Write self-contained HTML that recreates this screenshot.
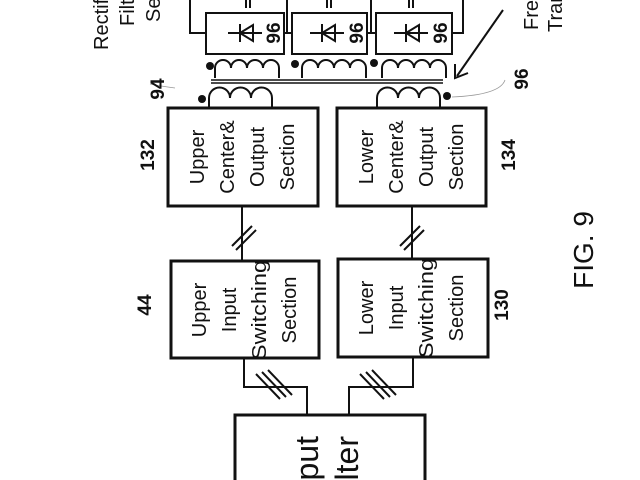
<!DOCTYPE html>
<html><head><style>
html,body{margin:0;padding:0;background:#fff;overflow:hidden;width:640px;height:480px;}
svg{display:block;}
text{font-family:"Liberation Sans",sans-serif;fill:#111;}
</style></head><body>
<svg width="640" height="480" viewBox="0 0 640 480" xmlns="http://www.w3.org/2000/svg">
<g fill="none" stroke="#111" stroke-width="3">
<rect x="168" y="108" width="150" height="98"/>
<rect x="337" y="108" width="149" height="98"/>
<rect x="171" y="261" width="148" height="97"/>
<rect x="338" y="259" width="150" height="98"/>
<path d="M235,480 V415 H425 V480"/>
</g>
<g fill="none" stroke="#111" stroke-width="2">
<rect x="206" y="13" width="78" height="41"/>
<rect x="292" y="13" width="75" height="41"/>
<rect x="376" y="13" width="76" height="41"/>
<polyline points="190,0 190,33 206,33"/>
<polyline points="463,0 463,33 452,33"/>
<polyline points="287,0 287,33"/><line x1="284" y1="33" x2="292" y2="33"/>
<polyline points="371,0 371,33"/><line x1="367" y1="33" x2="376" y2="33"/>
<line x1="242" y1="206" x2="242" y2="261"/>
<line x1="412" y1="206" x2="412" y2="259"/>
<polyline points="244,358 244,387 307,387 307,415"/>
<polyline points="413,357 413,387 349,387 349,415"/>
<line x1="232" y1="246" x2="252" y2="226"/><line x1="236" y1="250" x2="256" y2="230"/>
<line x1="400" y1="246" x2="420" y2="226"/><line x1="404" y1="250" x2="424" y2="230"/>
<line x1="256" y1="374" x2="280" y2="399"/><line x1="262" y1="372" x2="286" y2="397"/><line x1="268" y1="370" x2="292" y2="395"/>
<line x1="360" y1="374" x2="384" y2="399"/><line x1="366" y1="372" x2="390" y2="397"/><line x1="372" y1="370" x2="396" y2="395"/>
<line x1="246" y1="0" x2="246" y2="8"/><line x1="250" y1="0" x2="250" y2="8"/>
<line x1="327" y1="0" x2="327" y2="8"/><line x1="331" y1="0" x2="331" y2="8"/>
<line x1="409" y1="0" x2="409" y2="8"/><line x1="413" y1="0" x2="413" y2="8"/>
<g id="d"><line x1="228" y1="33" x2="262" y2="33"/><line x1="240" y1="24" x2="240" y2="42"/><polygon points="240,33 253,25 253,41"/></g>
<use href="#d" transform="translate(82,0)"/>
<use href="#d" transform="translate(166,0)"/>
<path d="M215,78 V68 a8,8 0 0 1 16,0 a8,8 0 0 1 16,0 a8,8 0 0 1 16,0 a8,8 0 0 1 16,0 V78"/>
<path d="M302,78 V68 a8,8 0 0 1 16,0 a8,8 0 0 1 16,0 a8,8 0 0 1 16,0 a8,8 0 0 1 16,0 V78"/>
<path d="M382,78 V68 a8,8 0 0 1 16,0 a8,8 0 0 1 16,0 a8,8 0 0 1 16,0 a8,8 0 0 1 16,0 V78"/>
<line x1="211" y1="80" x2="443" y2="80" stroke-width="1.5"/>
<line x1="211" y1="83" x2="443" y2="83" stroke-width="1.5"/>
<path d="M209,108 V98 a10,10 0 0 1 21,0 a10,10 0 0 1 21,0 a10,10 0 0 1 21,0 V108"/>
<path d="M377,108 V98 a10,10 0 0 1 21,0 a10,10 0 0 1 21,0 a10,10 0 0 1 21,0 V108"/>
<line x1="503" y1="10" x2="457" y2="76"/>
<polyline points="455,64 455,78 468,73"/>
<path d="M175,88 Q160,86 150,84" stroke-width="0.8" stroke="#999"/>
<path d="M452,97 Q500,95 505,80" stroke-width="0.8" stroke="#999"/>
</g>
<g fill="#111">
<circle cx="210" cy="66" r="4"/><circle cx="295" cy="64" r="4"/><circle cx="374" cy="63" r="4"/>
<circle cx="202" cy="99" r="4"/><circle cx="447" cy="96" r="4"/>
</g>
<g font-size="20">
<text transform="translate(204,157) rotate(-90)" text-anchor="middle">Upper</text>
<text transform="translate(234,157) rotate(-90)" text-anchor="middle">Center&amp;</text>
<text transform="translate(264,157) rotate(-90)" text-anchor="middle">Output</text>
<text transform="translate(294,157) rotate(-90)" text-anchor="middle">Section</text>
<text transform="translate(373,157) rotate(-90)" text-anchor="middle">Lower</text>
<text transform="translate(403,157) rotate(-90)" text-anchor="middle">Center&amp;</text>
<text transform="translate(433,157) rotate(-90)" text-anchor="middle">Output</text>
<text transform="translate(463,157) rotate(-90)" text-anchor="middle">Section</text>
<text transform="translate(206,310) rotate(-90)" text-anchor="middle">Upper</text>
<text transform="translate(236,310) rotate(-90)" text-anchor="middle">Input</text>
<text transform="translate(266,310) rotate(-90)" text-anchor="middle" textLength="100" lengthAdjust="spacingAndGlyphs">Switching</text>
<text transform="translate(296,310) rotate(-90)" text-anchor="middle">Section</text>
<text transform="translate(373,308) rotate(-90)" text-anchor="middle">Lower</text>
<text transform="translate(403,308) rotate(-90)" text-anchor="middle">Input</text>
<text transform="translate(433,308) rotate(-90)" text-anchor="middle" textLength="100" lengthAdjust="spacingAndGlyphs">Switching</text>
<text transform="translate(463,308) rotate(-90)" text-anchor="middle">Section</text>
<text transform="translate(108,50) rotate(-90)">Rectifier</text>
<text transform="translate(134,26) rotate(-90)">Filter</text>
<text transform="translate(160,22) rotate(-90)">Section</text>
<text transform="translate(538,30) rotate(-90)">Frequency</text>
<text transform="translate(562,32) rotate(-90)">Transformer</text>
</g>
<g font-size="32">
<text transform="translate(318,436) rotate(-90)" text-anchor="end">Input</text>
<text transform="translate(358,436) rotate(-90)" text-anchor="end">Filter</text>
</g>
<g font-size="19" font-weight="bold">
<text transform="translate(154,155) rotate(-90)" text-anchor="middle">132</text>
<text transform="translate(151,305) rotate(-90)" text-anchor="middle">44</text>
<text transform="translate(508,305) rotate(-90)" text-anchor="middle">130</text>
<text transform="translate(515,155) rotate(-90)" text-anchor="middle">134</text>
<text transform="translate(164,89) rotate(-90)" text-anchor="middle">94</text>
<text transform="translate(528,79) rotate(-90)" text-anchor="middle">96</text>
<text transform="translate(214,484) rotate(-90)" text-anchor="end">12</text>
<text transform="translate(280,33) rotate(-90)" text-anchor="middle">96</text>
<text transform="translate(363,33) rotate(-90)" text-anchor="middle">96</text>
<text transform="translate(447,33) rotate(-90)" text-anchor="middle">96</text>
</g>
<text transform="translate(593,250) rotate(-90)" text-anchor="middle" font-size="28">FIG. 9</text>
</svg>
</body></html>
